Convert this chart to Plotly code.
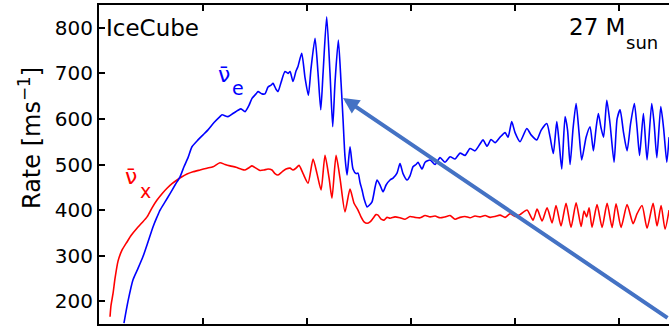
import plotly.graph_objects as go

# time after bounce [ms] and detection rate [1/ms]
anti_nue_t = [24.0, 27.9, 32.7, 37.5, 42.3, 47.1, 51.9, 55.8, 58.7, 63.5, 68.3, 73.1, 77.9, 81.7, 85.6, 89.4,
              95.2, 100.0, 104.8, 110.6, 116.3, 118.3, 124.0, 128.8, 133.7, 136.5, 140.4, 144.2, 147.1, 151.0,
              152.9, 156.7, 159.6, 162.5, 165.4, 167.3, 170.2, 172.1, 175.0, 178.8, 181.7, 183.7, 186.5, 189.4,
              191.3, 194.9, 198.1, 201.3, 203.8, 207.7, 210.6, 213.2, 215.4, 218.9, 222.1, 224.7, 226.9, 230.1,
              232.7, 234.6, 236.5, 238.5, 241.3, 244.2, 247.1, 249.0, 251.0, 252.9, 254.8, 257.7, 259.6, 262.5,
              265.4, 267.3, 270.2, 273.1, 276.0, 279.8, 282.7, 286.5, 289.4, 292.3, 296.2, 299.0, 301.9, 304.8,
              306.7, 310.6, 313.5, 318.3, 323.1, 327.9, 332.7, 337.5, 342.3, 347.1, 351.9, 356.7, 361.5, 366.3,
              369.2, 373.1, 376.9, 380.8,
              385.6, 390.4, 393.3, 396.8, 400.0, 404.8, 411.3, 415.4, 420.9, 425.0, 430.5, 433.7, 436.8, 440.1,
              442.3, 444.9, 448.1, 450.5, 452.9, 455.8, 458.7, 461.5, 464.1, 468.3, 472.1, 475.3, 477.9, 480.1,
              482.7, 485.1, 488.2, 491.3, 495.2, 498.1, 501.0, 504.3, 507.7, 511.1, 514.7, 517.3, 519.7, 523.4,
              526.9, 531.4, 533.7, 536.3, 540.1, 542.8, 545.9, 548.1]
anti_nue_rate = [152, 200, 247, 272, 298, 330, 363, 385, 400, 418, 436, 455, 473, 495, 515, 539,
                 554, 565, 576, 592, 605, 609, 605, 612, 619, 622, 616, 630, 645, 655,
                 660, 655, 655, 670, 674, 678, 665, 660, 680, 704, 700, 704, 682, 705,
                 715, 744, 690, 652, 710, 777, 700, 620, 700, 824, 700, 583, 680, 773,
                 680, 600, 517, 477, 539, 490, 480, 481, 460, 444, 425, 407, 410, 418,
                 450, 466, 455, 440, 455, 466, 470, 481, 502, 480, 466, 475, 495, 500,
                 505, 490, 505, 510, 500, 515, 505, 517, 512, 525, 520, 535, 530, 545,
                 554, 540, 555, 548,
                 560, 570, 560, 594, 570, 550, 579, 565, 554, 575, 590, 560, 524, 594,
                 550, 490, 605, 575, 500, 580, 634, 570, 510, 560, 583, 530, 580, 612,
                 580, 560, 641, 590, 505, 600, 620, 570, 530, 590, 634, 580, 520, 612,
                 510, 634, 590, 515, 627, 580, 505, 560]

anti_nux_t = [10.6, 11.5, 13.5, 15.4, 18.3, 22.1, 26.9, 30.8, 36.5, 41.3, 46.2, 51.0, 55.8, 60.6, 65.4, 70.2,
              75.0, 79.8, 84.6, 90.4, 97.1, 103.8, 109.6, 116.3, 121.2, 126.0, 131.7, 136.5, 140.4, 144.2,
              147.1, 151.0, 154.8, 158.7, 162.5, 166.3, 169.2, 172.1, 176.0, 179.8, 183.7, 186.5, 189.4, 192.3,
              196.2, 201.0, 205.8, 209.6, 213.5, 217.3, 221.2, 224.0, 227.9, 231.7, 236.5, 241.3, 245.2, 249.0,
              251.9, 254.8, 257.7, 260.6, 263.5, 266.3, 268.3, 271.2, 274.0, 276.9, 279.8, 284.6, 289.4, 294.2,
              299.0, 303.8, 308.7, 313.5, 318.3, 323.1, 327.9, 332.7, 337.5, 342.3, 347.1, 351.9, 356.7, 361.5,
              366.3, 371.2, 376.0, 380.8, 385.6, 390.4, 395.2, 400.0,
              404.8, 411.5, 417.3, 421.2, 426.0, 430.8, 435.6, 439.4, 444.2, 449.0, 453.8, 458.7, 463.5, 466.3,
              468.8, 471.2, 474.0, 478.8, 483.7, 488.5, 493.3, 497.1, 501.9, 507.7, 513.5, 517.3, 522.1, 526.9,
              532.7, 536.5, 540.4, 544.2, 548.1]
anti_nux_rate = [166, 190, 217, 250, 288, 312, 330, 344, 360, 372, 385, 405, 422, 436, 448, 458,
                 466, 473, 479, 484, 488, 492, 495, 504, 500, 497, 494, 490, 488, 493,
                 497, 492, 487, 488, 490, 488, 480, 477, 484, 490, 492, 488, 492, 498,
                 480, 459, 512, 480, 444, 520, 470, 426, 520, 470, 396, 446, 415, 400,
                 385, 374, 371, 374, 382, 390, 389, 380, 378, 384, 382, 385, 383, 380,
                 386, 384, 383, 388, 385, 387, 383, 385, 388, 380, 384, 386, 383, 387,
                 385, 388, 384, 386, 389, 384, 392, 386,
                 390, 400, 378, 402, 376, 405, 372, 410, 365, 415, 362, 416, 364, 398,
                 385, 405, 362, 412, 362, 415, 362, 414, 362, 412, 370, 392, 410, 360,
                 415, 365, 410, 358, 400]

x_ticks = [0, 100, 200, 300, 400, 500]
y_ticks = [200, 300, 400, 500, 600, 700, 800]
x_range = [0, 548]
y_range = [150, 850]

FONT = "DejaVu Sans"
BLUE = "#0000FF"
RED = "#FF0000"

fig = go.Figure()
fig.add_trace(go.Scatter(x=anti_nux_t, y=anti_nux_rate, mode="lines",
                         line=dict(color=RED, width=1.6, shape="spline", smoothing=0.6),
                         hoverinfo="skip"))
fig.add_trace(go.Scatter(x=anti_nue_t, y=anti_nue_rate, mode="lines",
                         line=dict(color=BLUE, width=1.6, shape="spline", smoothing=0.6),
                         hoverinfo="skip"))

def pxx(px):
    return (px - 99) / 570.0

def pxy(py):
    return (324 - py) / 319.0

ann = []
ann.append(dict(text="IceCube", xref="paper", yref="paper", x=pxx(104), y=pxy(28),
                xanchor="left", yanchor="middle", showarrow=False,
                font=dict(family=FONT, size=23, color="black")))
ann.append(dict(text="27 M", xref="paper", yref="paper", x=pxx(627), y=pxy(27),
                xanchor="right", yanchor="middle", showarrow=False,
                font=dict(family=FONT, size=23, color="black")))
ann.append(dict(text="sun", xref="paper", yref="paper", x=pxx(624), y=pxy(42),
                xanchor="left", yanchor="middle", showarrow=False,
                font=dict(family=FONT, size=18, color="black")))
ann.append(dict(text="\u03bd\u0304", xref="paper", yref="paper", x=pxx(224), y=pxy(74),
                xanchor="center", yanchor="middle", showarrow=False,
                font=dict(family=FONT, size=22, color=BLUE)))
ann.append(dict(text="e", xref="paper", yref="paper", x=pxx(238), y=pxy(88),
                xanchor="center", yanchor="middle", showarrow=False,
                font=dict(family=FONT, size=19, color=BLUE)))
ann.append(dict(text="\u03bd\u0304", xref="paper", yref="paper", x=pxx(131), y=pxy(176),
                xanchor="center", yanchor="middle", showarrow=False,
                font=dict(family=FONT, size=22, color=RED)))
ann.append(dict(text="x", xref="paper", yref="paper", x=pxx(145), y=pxy(191),
                xanchor="center", yanchor="middle", showarrow=False,
                font=dict(family=FONT, size=19, color=RED)))
ann.append(dict(text="Rate [ms<sup>\u22121</sup>]", xref="paper", yref="paper", x=pxx(30), y=pxy(138),
                xanchor="center", yanchor="middle", textangle=-90, showarrow=False,
                font=dict(family=FONT, size=24, color="black")))
# arrow pointing at the feature
ann.append(dict(text="", x=234.6, y=646, xref="x", yref="y", showarrow=True,
                ax=340, ay=221, axref="pixel", ayref="pixel",
                arrowhead=2, arrowsize=0.8, arrowwidth=4, arrowcolor="#4472C4", standoff=0))

fig.update_layout(
    width=669, height=327,
    margin=dict(l=99, r=0, t=5, b=3),
    paper_bgcolor="white", plot_bgcolor="white",
    showlegend=False,
    annotations=ann,
    xaxis=dict(range=x_range, tickvals=x_ticks, showticklabels=False, ticks="inside", ticklen=6,
               tickwidth=1.5, tickcolor="black", showline=True, linewidth=2, linecolor="black",
               mirror="ticks", showgrid=False, zeroline=False, fixedrange=True),
    yaxis=dict(range=y_range, tickvals=y_ticks, ticks="inside", ticklen=6, tickwidth=1.5,
               tickcolor="black", showline=True, linewidth=2, linecolor="black", mirror=False,
               showgrid=False, zeroline=False, fixedrange=True,
               tickfont=dict(family=FONT, size=20, color="black")),
    yaxis2=dict(range=y_range, tickvals=y_ticks, overlaying="y", side="right", anchor="x",
                ticks="inside", ticklen=6, tickwidth=1.5, tickcolor="black", showline=False,
                showticklabels=False, showgrid=False, zeroline=False, fixedrange=True),
    hovermode=False,
)

fig.write_html("out.html", config={"displayModeBar": False})
